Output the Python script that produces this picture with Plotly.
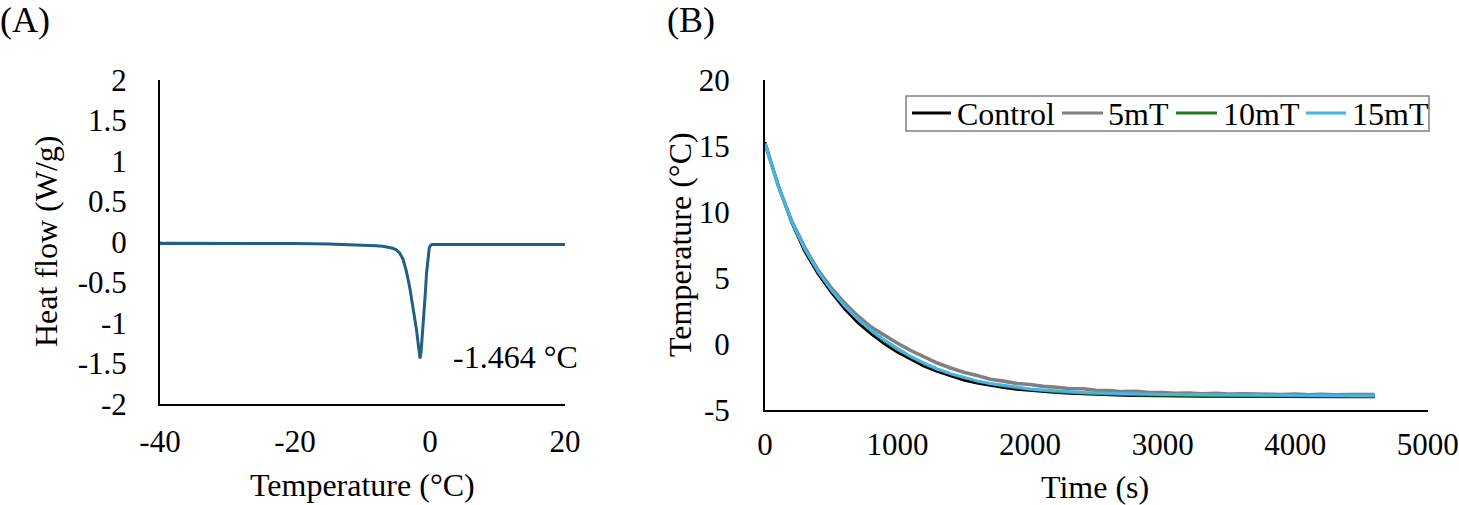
import plotly.graph_objects as go

W, H = 1459, 505
FONT = "Liberation Serif, Times New Roman, serif"

# ---- Panel A: DSC curve ----
dsc_temp = [-40, -39.8, -39, -35, -30, -25, -20, -15, -12, -10, -8, -7, -6.5, -6, -5.5, -5, -4.5,
            -4, -3.5, -3, -2.5, -2, -1.8, -1.6, -1.464, -1.3, -1.1, -0.9, -0.7, -0.5, -0.3, -0.1,
            0.1, 0.3, 0.6, 1, 5, 10, 15, 20]
dsc_heat = [0.0, -0.02, -0.015, -0.015, -0.015, -0.017, -0.02, -0.025, -0.03, -0.035, -0.045,
            -0.052, -0.058, -0.066, -0.078, -0.095, -0.135, -0.21, -0.36, -0.56, -0.8, -1.08,
            -1.22, -1.36, -1.44, -1.34, -1.13, -0.9, -0.65, -0.38, -0.18, -0.07, -0.04, -0.03,
            -0.03, -0.03, -0.03, -0.03, -0.03, -0.03]
peak_label = "-1.464 °C"
a_yticks = [2, 1.5, 1, 0.5, 0, -0.5, -1, -1.5, -2]
a_yticktext = ["2", "1.5", "1", "0.5", "0", "-0.5", "-1", "-1.5", "-2"]
a_xticks = [-40, -20, 0, 20]
a_xticktext = ["-40", "-20", "0", "20"]

# ---- Panel B: cooling curves ----
time_s = [0, 100, 200, 300, 400, 500, 600, 700, 800, 900, 1000, 1100, 1200, 1300, 1400, 1500,
          1600, 1700, 1800, 1900, 2000, 2100, 2200, 2300, 2400, 2500, 2600, 2700, 2800, 2900,
          3000, 3100, 3200, 3300, 3400, 3500, 3600, 3700, 3800, 3900, 4000, 4100, 4200, 4300,
          4400, 4500, 4600]
control = [15.3, 12.0, 9.2, 7.0, 5.3, 3.9, 2.65, 1.6, 0.75, 0.0, -0.65, -1.2, -1.7, -2.1, -2.45,
           -2.75, -2.98, -3.17, -3.32, -3.45, -3.55, -3.63, -3.7, -3.75, -3.8, -3.84, -3.87, -3.9,
           -3.92, -3.94, -3.95, -3.96, -3.97, -3.98, -3.98, -3.99, -3.99, -4.0, -4.0, -4.01, -4.01,
           -4.02, -4.02, -4.02, -4.03, -4.03, -4.03]
mt5 = [15.2, 12.0, 9.35, 7.3, 5.6, 4.25, 3.1, 2.12, 1.28, 0.65, 0.05, -0.5, -0.98, -1.45, -1.82,
       -2.15, -2.4, -2.68, -2.82, -3.0, -3.08, -3.22, -3.28, -3.4, -3.4, -3.52, -3.53, -3.62,
       -3.6, -3.68, -3.68, -3.74, -3.72, -3.78, -3.75, -3.8, -3.78, -3.82, -3.8, -3.84, -3.81,
       -3.85, -3.82, -3.86, -3.83, -3.86, -3.84]
mt10 = [15.2, 12.0, 9.3, 7.2, 5.5, 4.1, 2.9, 1.85, 1.0, 0.25, -0.4, -1.0, -1.5, -1.93, -2.28,
        -2.58, -2.83, -3.03, -3.2, -3.34, -3.46, -3.56, -3.64, -3.7, -3.75, -3.79, -3.82, -3.85,
        -3.87, -3.89, -3.9, -3.91, -3.92, -3.93, -3.94, -3.94, -3.95, -3.95, -3.96, -3.96, -3.97,
        -3.97, -3.97, -3.98, -3.98, -3.98, -3.98]
mt15 = [15.2, 12.0, 9.3, 7.2, 5.5, 4.1, 2.9, 1.9, 1.05, 0.3, -0.35, -0.95, -1.45, -1.9, -2.25,
        -2.55, -2.8, -3.0, -3.15, -3.3, -3.42, -3.5, -3.57, -3.63, -3.68, -3.72, -3.75, -3.77,
        -3.8, -3.81, -3.83, -3.84, -3.85, -3.86, -3.86, -3.87, -3.88, -3.88, -3.89, -3.89, -3.9,
        -3.91, -3.91, -3.92, -3.92, -3.93, -3.93]
series_names = ["Control", "5mT", "10mT", "15mT"]
series_colors = ["#000000", "#808080", "#1e7a1e", "#45b4e6"]
series_widths = [2.6, 3.6, 2.6, 3.0]
b_yticks = [20, 15, 10, 5, 0, -5]
b_yticktext = ["20", "15", "10", "5", "0", "-5"]
b_xticks = [0, 1000, 2000, 3000, 4000, 5000]
b_xticktext = ["0", "1000", "2000", "3000", "4000", "5000"]


def px(x):
    return x / W


def py(y):
    return 1 - y / H


fig = go.Figure()
fig.add_trace(go.Scatter(x=dsc_temp, y=dsc_heat, mode="lines",
                         line=dict(color="#1f6086", width=3),
                         xaxis="x", yaxis="y", showlegend=False))

for name, vals, col, w in zip(series_names, [control, mt5, mt10, mt15], series_colors, series_widths):
    fig.add_trace(go.Scatter(x=time_s, y=vals, mode="lines", name=name,
                             line=dict(color=col, width=w),
                             xaxis="x2", yaxis="y2", showlegend=False))

FS = 32
TFS = 31
axis_common = dict(showline=True, linecolor="black", linewidth=2, showgrid=False,
                   zeroline=False, ticks="", automargin=False, ticklabeloverflow="allow",
                   tickfont=dict(family=FONT, size=TFS, color="black"))

# manual legend (box, line samples, labels)
leg_box = dict(type="rect", xref="paper", yref="paper", x0=px(906), x1=px(1429), y0=py(131), y1=py(96),
               line=dict(color="#808080", width=1.5), fillcolor="white", layer="above")
shapes = [leg_box]
annotations = []
leg_lines = [(912, 951), (1062, 1103), (1176, 1217), (1306, 1346)]
leg_text_x = [955, 1106, 1221, 1350]
leg_y = 113
for (x0, x1), tx, name, col in zip(leg_lines, leg_text_x, series_names, series_colors):
    shapes.append(dict(type="line", xref="paper", yref="paper", x0=px(x0), x1=px(x1),
                       y0=py(leg_y), y1=py(leg_y), line=dict(color=col, width=3), layer="above"))
    annotations.append(dict(text=name, x=px(tx), y=py(leg_y + 1), xref="paper", yref="paper",
                            xanchor="left", yanchor="middle", showarrow=False,
                            font=dict(family=FONT, size=FS, color="black")))

annotations += [
    dict(text="(A)", x=0, y=py(20), xref="paper", yref="paper", xanchor="left", yanchor="middle",
         showarrow=False, font=dict(family=FONT, size=36, color="black"), xshift=-2),
    dict(text="(B)", x=px(667), y=py(20), xref="paper", yref="paper", xanchor="left", yanchor="middle",
         showarrow=False, font=dict(family=FONT, size=36, color="black"), xshift=-2),
    dict(text=peak_label, x=px(580), y=py(357), xref="paper", yref="paper",
         xanchor="right", yanchor="middle", showarrow=False,
         font=dict(family=FONT, size=FS, color="black")),
    dict(text="Heat flow (W/g)", x=px(46), y=py(242), xref="paper", yref="paper", textangle=-90,
         xanchor="center", yanchor="middle", showarrow=False,
         font=dict(family=FONT, size=FS, color="black")),
    dict(text="Temperature (°C)", x=px(680), y=py(245), xref="paper", yref="paper", textangle=-90,
         xanchor="center", yanchor="middle", showarrow=False,
         font=dict(family=FONT, size=FS, color="black")),
    dict(text="Temperature (°C)", x=px(362), y=py(485), xref="paper", yref="paper",
         xanchor="center", yanchor="middle", showarrow=False,
         font=dict(family=FONT, size=FS, color="black")),
    dict(text="Time (s)", x=px(1095), y=py(487), xref="paper", yref="paper",
         xanchor="center", yanchor="middle", showarrow=False,
         font=dict(family=FONT, size=FS, color="black")),
]

fig.update_layout(
    width=W, height=H,
    margin=dict(l=0, r=0, t=0, b=0),
    paper_bgcolor="white", plot_bgcolor="white",
    font=dict(family=FONT, color="black"),
    showlegend=False,
    xaxis=dict(domain=[px(160), px(565)], range=[-40, 20.01], anchor="y",
               tickvals=a_xticks, ticktext=a_xticktext, ticklabelstandoff=9, **axis_common),
    yaxis=dict(domain=[py(404), py(80)], range=[-2.001, 2.001], anchor="x",
               tickvals=a_yticks, ticktext=a_yticktext, ticklabelstandoff=25, **axis_common),
    xaxis2=dict(domain=[px(765), px(1428)], range=[0, 5002], anchor="y2",
                tickvals=b_xticks, ticktext=b_xticktext, ticklabelstandoff=6, **axis_common),
    yaxis2=dict(domain=[py(410), py(80)], range=[-5.01, 20.01], anchor="x2",
                tickvals=b_yticks, ticktext=b_yticktext, ticklabelstandoff=27, **axis_common),
    shapes=shapes,
    annotations=annotations,
)

fig.write_html("out.html")
